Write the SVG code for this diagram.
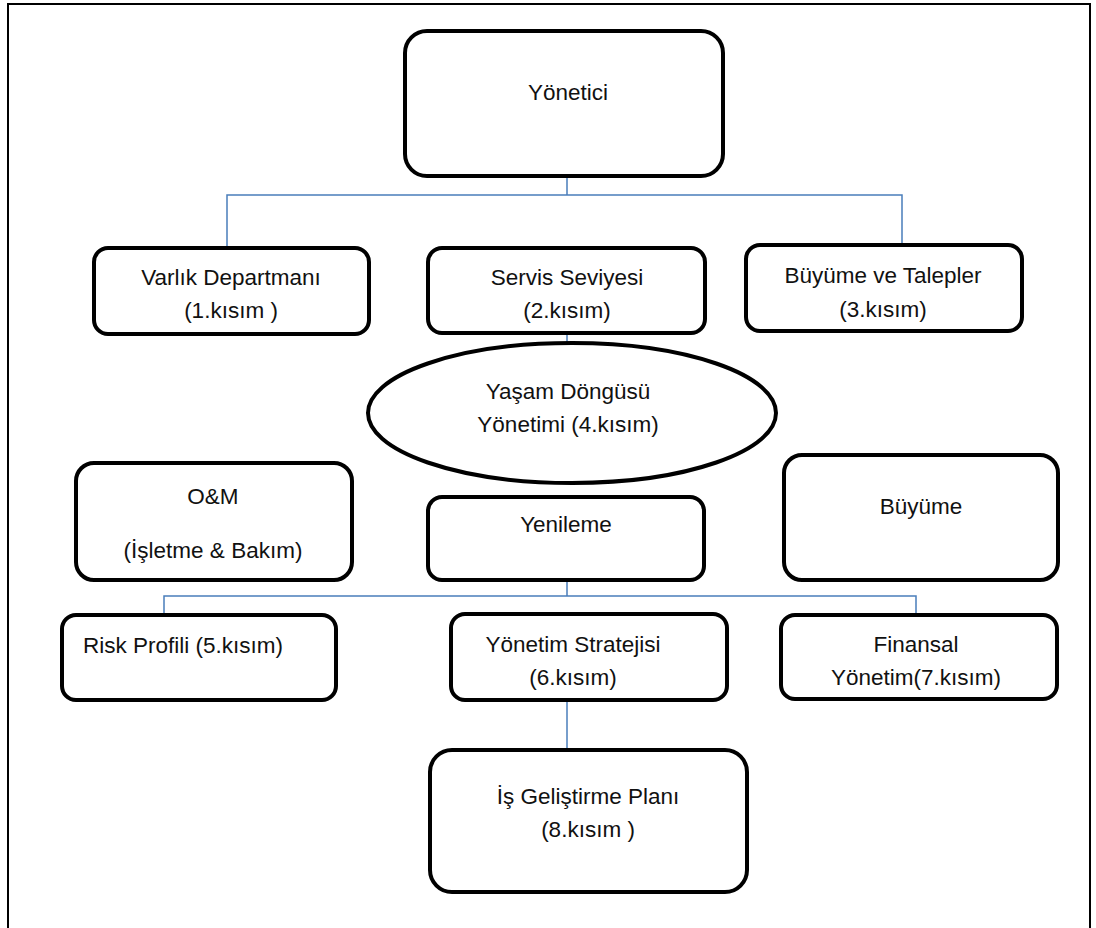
<svg xmlns="http://www.w3.org/2000/svg" width="1096" height="928" viewBox="0 0 1096 928">
<style>
.box{fill:#fff;stroke:#000;stroke-width:4}
.lbl{font-family:"Liberation Sans",Arial,sans-serif;font-size:22.5px;fill:#111;text-anchor:middle}
.con{fill:none;stroke:#4a7ebb;stroke-width:1.5}
</style>
<rect x="0" y="0" width="1096" height="928" fill="#fff"/>
<rect x="8" y="4" width="1082" height="930" fill="none" stroke="#000" stroke-width="2"/>
<g id="connectors">
<path class="con" d="M567 176V195M227 248V195H902V245"/>
<path class="con" d="M567 333V345"/>
<path class="con" d="M567 580V596M164 615V596H916V615"/>
<path class="con" d="M567 700V750"/>
</g>
<g id="n-yonetici"><rect class="box" x="405" y="31" width="318" height="145" rx="22"/><text class="lbl" x="568" y="100">Yönetici</text></g>
<g id="n-varlik"><rect class="box" x="94" y="248" width="275" height="86" rx="14"/><text class="lbl" x="231" y="285">Varlık Departmanı</text><text class="lbl" x="231" y="318">(1.kısım )</text></g>
<g id="n-servis"><rect class="box" x="428" y="248" width="277" height="85" rx="14"/><text class="lbl" x="567" y="285">Servis Seviyesi</text><text class="lbl" x="567" y="318">(2.kısım)</text></g>
<g id="n-buyumetalep"><rect class="box" x="746" y="245" width="276" height="86" rx="14"/><text class="lbl" x="883" y="283">Büyüme ve Talepler</text><text class="lbl" x="883" y="317">(3.kısım)</text></g>
<g id="n-yasam"><ellipse class="box" cx="572" cy="413" rx="204" ry="70"/><text class="lbl" x="568" y="399">Yaşam Döngüsü</text><text class="lbl" x="568" y="432">Yönetimi (4.kısım)</text></g>
<g id="n-om"><rect class="box" x="76" y="463" width="276" height="117" rx="18"/><text class="lbl" x="213" y="504">O&amp;M</text><text class="lbl" x="213" y="558">(İşletme &amp; Bakım)</text></g>
<g id="n-yenileme"><rect class="box" x="428" y="497" width="276" height="83" rx="14"/><text class="lbl" x="566" y="532">Yenileme</text></g>
<g id="n-buyume"><rect class="box" x="784" y="455" width="274" height="125" rx="18"/><text class="lbl" x="921" y="514">Büyüme</text></g>
<g id="n-risk"><rect class="box" x="62" y="615" width="274" height="85" rx="14"/><text class="lbl" x="183" y="653">Risk Profili (5.kısım)</text></g>
<g id="n-strateji"><rect class="box" x="451" y="614" width="276" height="86" rx="14"/><text class="lbl" x="573" y="652">Yönetim Stratejisi</text><text class="lbl" x="573" y="685">(6.kısım)</text></g>
<g id="n-finansal"><rect class="box" x="781" y="615" width="276" height="84" rx="14"/><text class="lbl" x="916" y="652">Finansal</text><text class="lbl" x="916" y="685">Yönetim(7.kısım)</text></g>
<g id="n-is"><rect class="box" x="430" y="750" width="317" height="142" rx="22"/><text class="lbl" x="588" y="804">İş Geliştirme Planı</text><text class="lbl" x="588" y="837">(8.kısım )</text></g>
</svg>
